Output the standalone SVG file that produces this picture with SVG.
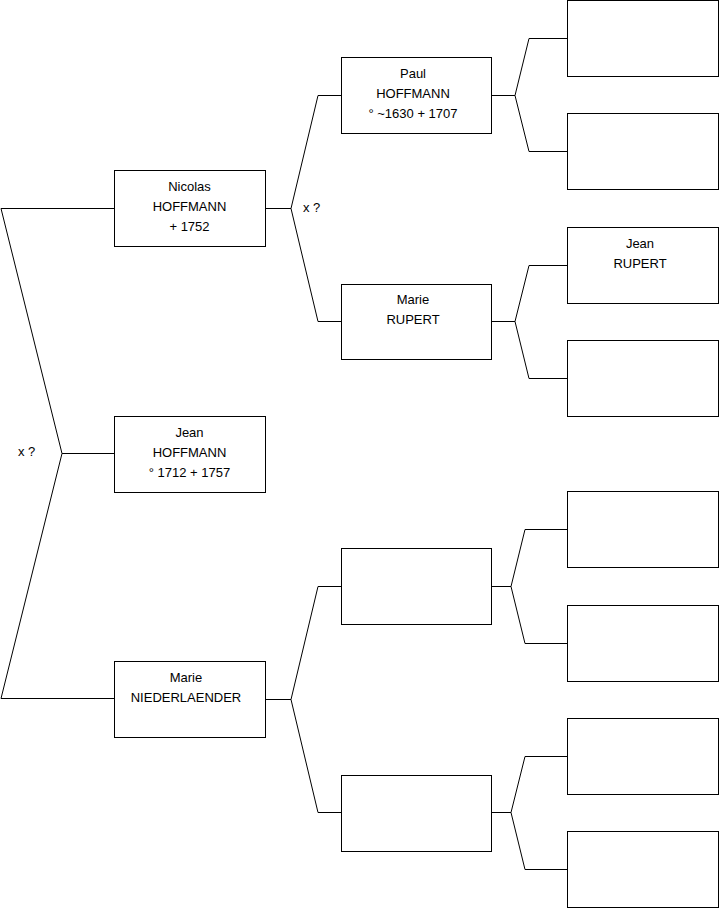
<svg xmlns="http://www.w3.org/2000/svg" width="719" height="908" viewBox="0 0 719 908">
<style>
.box{fill:#fff;stroke:#000;stroke-width:1}
.ln{fill:none;stroke:#000;stroke-width:1}
text{font-family:"Liberation Sans",Arial,sans-serif;font-size:13px;fill:#000;text-anchor:middle}
.l{text-anchor:start}
</style>
<rect width="719" height="908" fill="#fff"/>
<g id="connectors">
<path class="ln" d="M1,208.5 H114.5 M1,208.5 L62,453.5 L1,698.5 H114.5 M62,453.5 H114.5"/>
<path class="ln" d="M265.5,208.5 H291 L318,95.5 H341.5 M291,208.5 L318,321.5 H341.5"/>
<path class="ln" d="M265.5,699.5 H291 L318,586.5 H341.5 M291,699.5 L318,812.5 H341.5"/>
<path class="ln" d="M491.5,95.5 H515 L529,38.5 H567.5 M515,95.5 L529,151.5 H567.5"/>
<path class="ln" d="M491.5,321.5 H515 L529,265.5 H567.5 M515,321.5 L529,378.5 H567.5"/>
<path class="ln" d="M491.5,586.5 H511 L525,529.5 H567.5 M511,586.5 L525,643.5 H567.5"/>
<path class="ln" d="M491.5,812.5 H511 L525,756.5 H567.5 M511,812.5 L525,869.5 H567.5"/>
<text class="l" x="18" y="456">x ?</text>
<text class="l" x="303" y="212">x ?</text>
</g>
<g id="nicolas"><rect class="box" x="114.5" y="170.5" width="151" height="76"/>
<text x="189.5" y="191">Nicolas</text><text x="189.5" y="211">HOFFMANN</text><text x="189.5" y="231">+ 1752</text></g>
<g id="jean"><rect class="box" x="114.5" y="416.5" width="151" height="76"/>
<text x="189.5" y="437">Jean</text><text x="189.5" y="457">HOFFMANN</text><text x="189.5" y="477">° 1712 + 1757</text></g>
<g id="marieN"><rect class="box" x="114.5" y="661.5" width="151" height="76"/>
<text x="186" y="682">Marie</text><text x="186" y="702">NIEDERLAENDER</text></g>
<g id="paul"><rect class="box" x="341.5" y="57.5" width="150" height="76"/>
<text x="413" y="78">Paul</text><text x="413" y="98">HOFFMANN</text><text x="413" y="118">° ~1630 + 1707</text></g>
<g id="marieR"><rect class="box" x="341.5" y="284.5" width="150" height="75"/>
<text x="413" y="304">Marie</text><text x="413" y="324">RUPERT</text></g>
<g id="g2c"><rect class="box" x="341.5" y="548.5" width="150" height="76"/></g>
<g id="g2d"><rect class="box" x="341.5" y="775.5" width="150" height="76"/></g>
<g id="g3a"><rect class="box" x="567.5" y="0.5" width="151" height="76"/></g>
<g id="g3b"><rect class="box" x="567.5" y="113.5" width="151" height="76"/></g>
<g id="jeanR"><rect class="box" x="567.5" y="227.5" width="151" height="76"/>
<text x="640" y="248">Jean</text><text x="640" y="268">RUPERT</text></g>
<g id="g3d"><rect class="box" x="567.5" y="340.5" width="151" height="76"/></g>
<g id="g3e"><rect class="box" x="567.5" y="491.5" width="151" height="76"/></g>
<g id="g3f"><rect class="box" x="567.5" y="605.5" width="151" height="76"/></g>
<g id="g3g"><rect class="box" x="567.5" y="718.5" width="151" height="76"/></g>
<g id="g3h"><rect class="box" x="567.5" y="831.5" width="151" height="76"/></g>
</svg>
